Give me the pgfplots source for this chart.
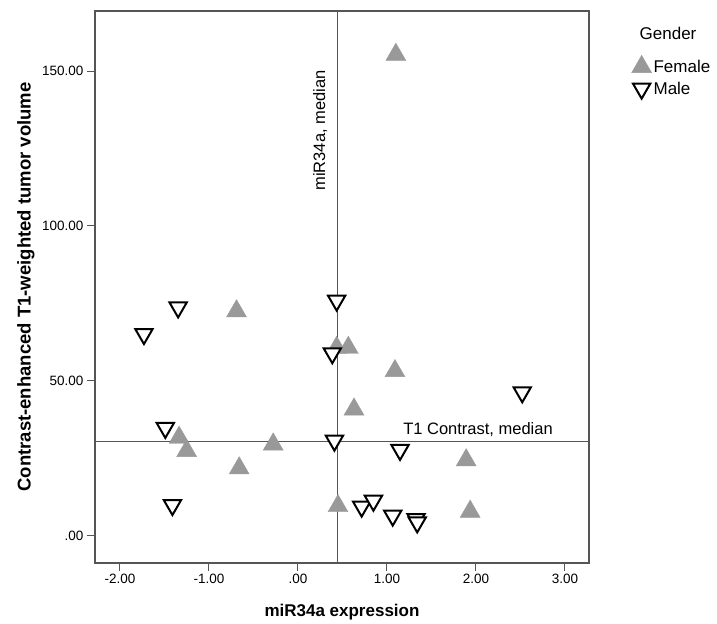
\documentclass[border=0pt]{standalone}
\usepackage{pgfplots}
\pgfplotsset{compat=1.18}
\usepackage{fontspec}
\setmainfont{Liberation Sans}
\definecolor{fem}{RGB}{153,153,153}
\definecolor{frame}{RGB}{85,85,85}
\begin{document}
\begin{tikzpicture}
\begin{axis}[
  scale only axis, width=494bp, height=552bp,
  xmin=-2.28, xmax=3.27, ymin=-8.8, ymax=169.4,
  clip=false,
  axis line style={frame, line width=1.2bp},
  xtick={-2,-1,0,1,2,3}, xticklabels={-2.00,-1.00,.00,1.00,2.00,3.00},
  ytick={0,50,100,150}, yticklabels={.00,50.00,100.00,150.00},
  tick align=outside, xtick pos=bottom, ytick pos=left, major tick length=8bp,
  tick style={frame, line width=1bp},
  ticklabel style={font=\fontsize{13.5bp}{16bp}\selectfont},
  xlabel={\textbf{miR34a expression}},
  x label style={font=\fontsize{17bp}{20bp}\selectfont, at={(axis description cs:0.5,-0.0888)}, anchor=center},
  ylabel={\textbf{Contrast-enhanced T1-weighted tumor volume}},
  y label style={font=\fontsize{18.5bp}{22bp}\selectfont, at={(axis description cs:-0.1397,0.5)}, anchor=center},
  legend style={at={(rel axis cs:1.086,0.920)}, anchor=north west, draw=none, fill=none,
    font=\fontsize{17bp}{20bp}\selectfont, inner sep=0pt, row sep=4bp},
  legend cell align=left,
]
\addplot[only marks, mark=triangle*, mark size=11.5bp, color=fem, mark options={fill=fem, draw=none}] coordinates {
(-0.69,72.5) (0.435,60.7) (0.566,60.7) (-1.335,31.7) (-1.25,27.4) (-0.278,29.5) (-0.66,21.8)
(0.45,9.6) (1.09,53.2) (0.63,40.8) (1.89,24.4) (1.935,7.8) (1.10,155.3)
};
\addlegendentry{Female}
\addplot[only marks, mark=triangle*, mark size=10bp, color=black, mark options={rotate=180, fill=white, draw=black, line width=2bp}] coordinates {
(-1.346,73.7) (-1.73,65.1) (0.435,75.9) (0.386,58.9) (-1.49,34.8) (0.41,30.7) (-1.41,9.9)
(2.52,46.3) (1.147,27.7) (0.716,9.4) (0.848,11.3) (1.065,6.5) (1.327,5.4) (1.34,4.3)
};
\addlegendentry{Male}
\addplot[forget plot, frame, line width=1.2bp] coordinates {(0.447,-8.8) (0.447,169.4)};
\addplot[forget plot, frame, line width=1.2bp] coordinates {(-2.28,30.4) (3.27,30.4)};
\node[rotate=90, anchor=base east, inner sep=0pt, font=\fontsize{16.5bp}{20bp}\selectfont] at (axis cs:0.304,150.3) {miR34a, median};
\node[anchor=base west, inner sep=0pt, font=\fontsize{16.5bp}{20bp}\selectfont] at (axis cs:1.181,32.6) {T1 Contrast, median};
\node[font=\fontsize{17bp}{20bp}\selectfont] at (rel axis cs:1.16,0.959) {Gender};
\end{axis}
\path (current axis.south west) ++(-95bp,-58bp) rectangle ++(717bp,621bp);
\end{tikzpicture}
\end{document}
